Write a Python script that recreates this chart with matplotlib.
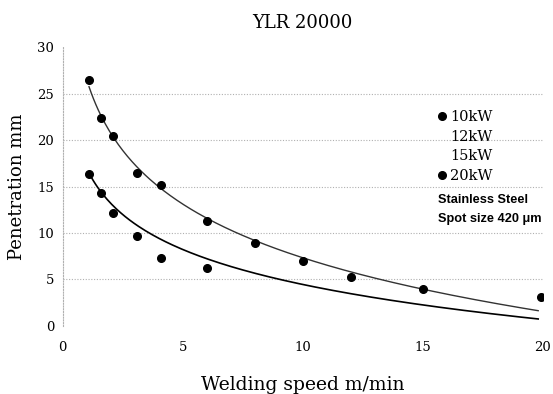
import numpy as np
import matplotlib
matplotlib.use('Agg')
import matplotlib.pyplot as plt
from matplotlib.lines import Line2D

# measured points (welding speed m/min, penetration mm)
speed_10kw = [1.1, 1.6, 2.1, 3.1, 4.1, 6.0]
pen_10kw = [16.4, 14.3, 12.2, 9.7, 7.3, 6.2]

speed_20kw = [1.1, 1.6, 2.1, 3.1, 4.1, 6.0, 8.0, 10.0, 12.0, 15.0, 19.9]
pen_20kw = [26.5, 22.4, 20.4, 16.5, 15.2, 11.3, 8.9, 7.0, 5.25, 3.95, 3.1]

# log trend lines: pen = a - b*ln(speed)
trend_10kw = [16.97, 5.44]
trend_20kw = [26.55, 8.35]
trend_range = [1.1, 19.8]

legend_labels = ['10kW', '12kW', '15kW', '20kW']
note_lines = ['Stainless Steel', 'Spot size 420 \u03bcm']

serif = 'DejaVu Serif'

fig = plt.figure(figsize=(5.53, 3.94), dpi=100)
ax = fig.add_axes([0.1132, 0.1733, 0.8687, 0.7066])

xs = np.linspace(trend_range[0], trend_range[1], 200)
ax.plot(xs, trend_20kw[0] - trend_20kw[1] * np.log(xs), color='#333333', lw=1.0)
ax.plot(xs, trend_10kw[0] - trend_10kw[1] * np.log(xs), color='black', lw=1.2)

p10, = ax.plot(speed_10kw, pen_10kw, 'o', color='black', ms=5.5, ls='none')
p20, = ax.plot(speed_20kw, pen_20kw, 'o', color='black', ms=5.5, ls='none')

ax.set_xlim(0, 20)
ax.set_ylim(0, 30)
ax.set_xticks([0, 5, 10, 15, 20])
ax.set_yticks([0, 5, 10, 15, 20, 25, 30])
ax.tick_params(length=0, labelsize=9.5)
ax.tick_params(axis='x', pad=11)
ax.tick_params(axis='y', pad=6)
for lab in ax.get_xticklabels() + ax.get_yticklabels():
    lab.set_family(serif)

for y in [5, 10, 15, 20, 25]:
    ax.axhline(y, color='#b0b0b0', lw=0.8, ls=(0, (1, 1.5)), zorder=0)

for s in ['top', 'right', 'bottom']:
    ax.spines[s].set_visible(False)
ax.spines['left'].set_color('#b0b0b0')
ax.spines['left'].set_linestyle((0, (1, 1.5)))
ax.spines['left'].set_linewidth(0.8)

ax.set_title('YLR 20000', family=serif, fontsize=13, pad=14)
ax.set_xlabel('Welding speed m/min', family=serif, fontsize=13.5, labelpad=16)
ax.set_ylabel('Penetration mm', family=serif, fontsize=13, labelpad=8)

blank = Line2D([], [], ls='none', marker='none')
leg = ax.legend([p10, blank, blank, p20], legend_labels,
                loc='upper left', bbox_to_anchor=(438 / 553, 1 - 110 / 394),
                bbox_transform=fig.transFigure, frameon=False,
                prop={'family': serif, 'size': 10.5},
                handlelength=0.6, handletextpad=0.25, labelspacing=0.38,
                borderpad=0, borderaxespad=0)

fig.text(438 / 553, 1 - 200 / 394, note_lines[0], family='Liberation Sans',
         fontsize=9.2, fontweight='bold', va='center', ha='left')
fig.text(438 / 553, 1 - 219 / 394, note_lines[1], family='Liberation Sans',
         fontsize=9.2, fontweight='bold', va='center', ha='left')

fig.savefig('out.png', dpi=100)
